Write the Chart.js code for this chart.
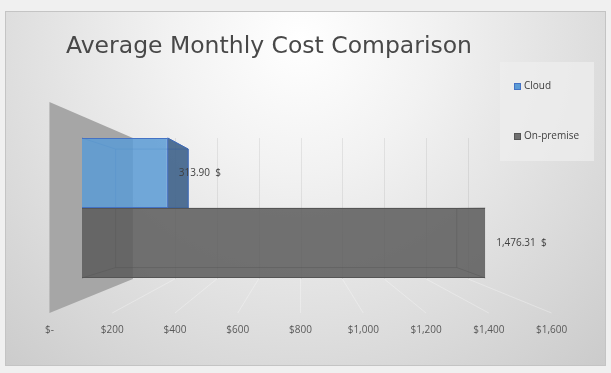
<!DOCTYPE html>
<html>
<head>
<meta charset="utf-8">
<script src="https://cdn.jsdelivr.net/npm/chart.js@4"></script>
<style>
  html, body { margin: 0; padding: 0; background: #f0f0f0; }
  #wrap { width: 611px; height: 373px; }
</style>
</head>
<body>
<div id="wrap"><canvas id="costChart" width="611" height="373"></canvas></div>
<script>
// data
const categories = [''];
const seriesNames = ['Cloud', 'On-premise'];
const cloudCost = [313.90];
const onPremCost = [1476.31];
const tickValues = [0, 200, 400, 600, 800, 1000, 1200, 1400, 1600];

// look
const FONT = '"Open Sans", "DejaVu Sans", sans-serif';
const TEXT = '#404040';
const barFill = ['rgba(91,155,213,0.85)', 'rgba(90,90,90,0.85)'];
const barEdge = ['#4472c4', '#555555'];
const barSide = ['rgba(62,98,138,0.9)', 'rgba(95,95,95,0.9)'];
const barInner = ['rgba(50,90,160,0.45)', 'rgba(60,60,60,0.45)'];
const legendFill = ['#5b9bd5', '#707070'];

// fake perspective: how far each plane sits toward the vanishing point
const BAR_DEPTH = 0.154;
const WALL_KX = 0.233;
const FLOOR_KX = 0.149;

function fmtTick(v) { return v === 0 ? '$-' : '$' + v.toLocaleString('en-US'); }
function fmtValue(v) {
  return v.toLocaleString('en-US', { minimumFractionDigits: 2, maximumFractionDigits: 2 }) + '  $';
}

function vanish(chart) {
  const a = chart.chartArea;
  return { x: (a.left + a.right) / 2, y: (a.top + a.bottom) / 2 + 2 };
}

function poly(ctx, pts) {
  ctx.beginPath();
  ctx.moveTo(pts[0].x, pts[0].y);
  for (let i = 1; i < pts.length; i++) ctx.lineTo(pts[i].x, pts[i].y);
  ctx.closePath();
}

const scene3d = {
  id: 'scene3d',
  beforeDraw(chart) {
    const ctx = chart.ctx, a = chart.chartArea, xs = chart.scales.x;
    const vp = vanish(chart);
    const backX = v => { const p = xs.getPixelForValue(v); return p + (vp.x - p) * WALL_KX; };
    const floorX = v => { const p = xs.getPixelForValue(v); return p - (vp.x - p) * FLOOR_KX; };
    const wallTop = a.top + 10, wallBot = a.bottom - 9;
    const sideTop = a.top - 26, floorY = a.bottom + 25;

    ctx.save();
    // frame
    const g = ctx.createRadialGradient(300, 40, 0, 300, 40, 520);
    g.addColorStop(0, '#ffffff');
    g.addColorStop(0.25, '#f2f2f2');
    g.addColorStop(1, '#c2c2c2');
    ctx.fillStyle = g;
    ctx.fillRect(5, 11, 601, 355);
    ctx.strokeStyle = '#c4c4c4';
    ctx.lineWidth = 1;
    ctx.strokeRect(5.5, 11.5, 600, 354);

    // side wall
    poly(ctx, [
      { x: floorX(0), y: sideTop }, { x: backX(0), y: wallTop },
      { x: backX(0), y: wallBot }, { x: floorX(0), y: floorY }
    ]);
    ctx.fillStyle = '#a6a6a6';
    ctx.fill();

    // back wall grid + floor lines
    tickValues.forEach(v => {
      if (v === 0) return;
      const bx = Math.round(backX(v)) + 0.5;
      ctx.strokeStyle = 'rgba(0,0,0,0.07)';
      ctx.beginPath(); ctx.moveTo(bx, wallTop); ctx.lineTo(bx, wallBot); ctx.stroke();
      ctx.strokeStyle = 'rgba(255,255,255,0.3)';
      ctx.beginPath(); ctx.moveTo(backX(v), wallBot); ctx.lineTo(floorX(v), floorY); ctx.stroke();
    });

    // legend box
    ctx.fillStyle = 'rgba(238,238,238,0.75)';
    ctx.fillRect(500, 62, 94, 99);
    ctx.restore();
  },
  beforeDatasetsDraw(chart) {
    const ctx = chart.ctx, vp = vanish(chart);
    const toBack = p => ({ x: p.x + (vp.x - p.x) * BAR_DEPTH, y: p.y + (vp.y - p.y) * BAR_DEPTH });
    ctx.save();
    chart.data.datasets.forEach((ds, di) => {
      chart.getDatasetMeta(di).data.forEach(el => {
        const p = el.getProps(['x', 'y', 'base', 'height'], true);
        const l = Math.min(p.x, p.base), r = Math.max(p.x, p.base);
        const t = p.y - p.height / 2, b = p.y + p.height / 2;
        const fTL = { x: l, y: t }, fTR = { x: r, y: t }, fBR = { x: r, y: b }, fBL = { x: l, y: b };
        const bTL = toBack(fTL), bTR = toBack(fTR), bBR = toBack(fBR), bBL = toBack(fBL);
        if (bTR.x > fTR.x) {
          poly(ctx, [fTR, bTR, bBR, fBR]);
          ctx.fillStyle = barSide[di];
          ctx.fill();
          ctx.strokeStyle = barEdge[di];
          ctx.stroke();
        }
        // hidden edges, seen through the front
        ctx.strokeStyle = barInner[di];
        ctx.lineWidth = 1;
        poly(ctx, [bTL, bTR, bBR, bBL]);
        ctx.stroke();
        [[fTL, bTL], [fTR, bTR], [fBR, bBR], [fBL, bBL]].forEach(([u, w]) => {
          ctx.beginPath(); ctx.moveTo(u.x, u.y); ctx.lineTo(w.x, w.y); ctx.stroke();
        });
      });
    });
    ctx.restore();
  },
  afterDatasetsDraw(chart) {
    const ctx = chart.ctx;
    ctx.save();
    ctx.font = '10px ' + FONT;
    ctx.fillStyle = TEXT;
    ctx.textBaseline = 'middle';
    ctx.textAlign = 'left';
    chart.data.datasets.forEach((ds, di) => {
      chart.getDatasetMeta(di).data.forEach((el, i) => {
        const p = el.getProps(['x', 'y', 'base'], true);
        ctx.fillText(fmtValue(ds.data[i]), Math.max(p.x, p.base) + 11, p.y);
      });
    });
    ctx.restore();
  },
  afterDraw(chart) {
    const ctx = chart.ctx, xs = chart.scales.x, vp = vanish(chart);
    const floorX = v => { const p = xs.getPixelForValue(v); return p - (vp.x - p) * FLOOR_KX; };
    ctx.save();
    ctx.font = '10px ' + FONT;
    ctx.fillStyle = '#595959';
    ctx.textAlign = 'center';
    ctx.textBaseline = 'middle';
    tickValues.forEach(v => ctx.fillText(fmtTick(v), floorX(v), chart.chartArea.bottom + 42));

    // legend
    ctx.textAlign = 'left';
    chart.data.datasets.forEach((ds, di) => {
      const y = 86.5 + di * 50;
      ctx.fillStyle = legendFill[di];
      ctx.fillRect(514, y - 3.5, 7, 7);
      ctx.strokeStyle = barEdge[di];
      ctx.strokeRect(514.5, y - 3, 6, 6);
      ctx.fillStyle = TEXT;
      ctx.fillText(ds.label, 524, y);
    });
    ctx.restore();
  }
};

new Chart(document.getElementById('costChart'), {
  type: 'bar',
  data: {
    labels: categories,
    datasets: [
      { label: seriesNames[0], data: cloudCost, backgroundColor: barFill[0], borderColor: barEdge[0], borderWidth: 1 },
      { label: seriesNames[1], data: onPremCost, backgroundColor: barFill[1], borderColor: barEdge[1], borderWidth: 1 }
    ]
  },
  options: {
    indexAxis: 'y',
    responsive: false,
    animation: false,
    layout: { padding: { left: 66, right: 92, top: 33, bottom: 85 } },
    datasets: { bar: { categoryPercentage: 0.875, barPercentage: 1 } },
    plugins: {
      legend: { display: false },
      tooltip: { enabled: false },
      title: {
        display: true,
        text: 'Average Monthly Cost Comparison',
        align: 'start',
        color: '#484848',
        font: { family: '"DejaVu Sans", sans-serif', size: 23.5, weight: 'normal' },
        padding: { top: 0, bottom: 66.8 }
      }
    },
    scales: {
      x: { display: false, min: tickValues[0], max: tickValues[tickValues.length - 1], ticks: { stepSize: 200 } },
      y: {
        display: true,
        ticks: { display: false },
        grid: { display: false },
        border: { display: false },
        afterFit: s => { s.width = 16; }
      }
    }
  },
  plugins: [scene3d]
});
</script>
</body>
</html>
